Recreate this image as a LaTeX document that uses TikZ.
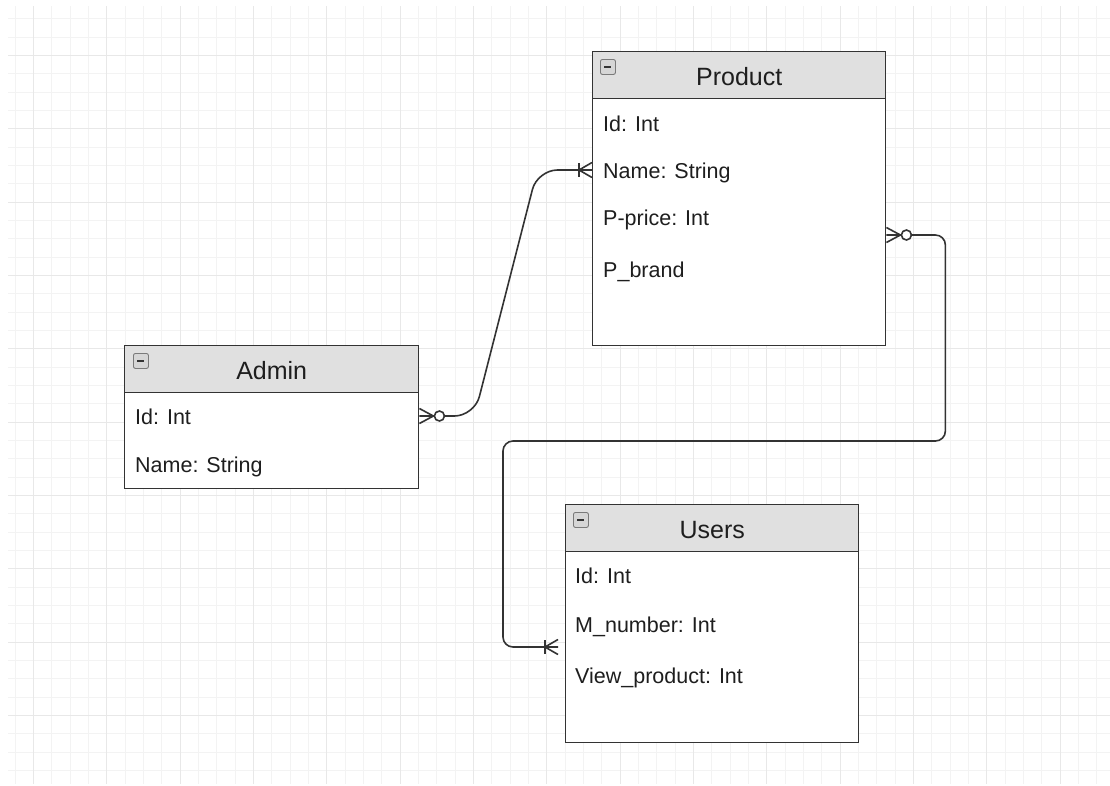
\documentclass[tikz,border=0pt]{standalone}
\usepackage{fontspec}
\setmainfont{Liberation Sans}
\usetikzlibrary{calc}
\definecolor{gridminor}{HTML}{F3F3F3}
\definecolor{gridmajor}{HTML}{E8E8E8}
\definecolor{hdr}{HTML}{E0E0E0}
\definecolor{edgec}{HTML}{333333}
\definecolor{txt}{HTML}{1E1E1E}
\definecolor{iconfill}{HTML}{D6D6D6}
\definecolor{iconedge}{HTML}{7A7A7A}
\tikzset{
  minorline/.style={draw=gridminor, line width=1pt},
  majorline/.style={draw=gridmajor, line width=1.2pt},
  entity/.style={draw=edgec, line width=1.4pt, fill=white, anchor=north west, inner sep=0pt},
  header/.style={draw=edgec, line width=1.4pt, fill=hdr, anchor=north west, minimum height=47pt, inner sep=0pt},
  icon/.style={draw=iconedge, line width=0.9pt, fill=iconfill, rounded corners=2pt, anchor=north west,
    minimum width=15pt, minimum height=15pt, inner sep=0pt,
    path picture={\draw[edgec, line width=1.6pt] ([xshift=4pt]path picture bounding box.west) -- ([xshift=-4pt]path picture bounding box.east);}},
  title/.style={anchor=base, inner sep=0pt, text=txt, font=\fontsize{25}{30}\selectfont},
  field/.style={anchor=base west, inner sep=0pt, text=txt, font=\fontsize{21.5}{26}\selectfont},
  conn/.style={draw=edgec, line width=1.6pt},
  zmany/.pic={\draw[conn] (0,-7.5) -- (14,0) -- (0,7.5); \draw[conn, fill=white] (20,0) circle (5pt);},
  omany/.pic={\draw[conn] (0,-7.5) -- (-13,0) -- (0,7.5); \draw[conn] (-13,-7) -- (-13,7);}
}
\begin{document}
\begin{tikzpicture}[x=1pt,y=-1pt]
\useasboundingbox (0,0) rectangle (1110,785);
\fill[white] (0,0) rectangle (1110,785);
% grid
\begin{scope}
\clip (8,6) rectangle (1110,783);
\foreach \i in {-2,...,60} {\pgfmathsetmacro{\gx}{33+round(18.33333*\i)+0.5}
  \draw[minorline] (\gx,0) -- (\gx,785);}
\foreach \i in {-3,...,42} {\pgfmathsetmacro{\gy}{55+round(18.33333*\i)+0.5}
  \draw[minorline] (0,\gy) -- (1110,\gy);}
\foreach \i in {0,...,15} {\pgfmathsetmacro{\gx}{33+round(73.33333*\i)+0.5}
  \draw[majorline] (\gx,0) -- (\gx,785);}
\foreach \i in {-1,...,10} {\pgfmathsetmacro{\gy}{55+round(73.33333*\i)+0.5}
  \draw[majorline] (0,\gy) -- (1110,\gy);}
\end{scope}

% Product
\node[entity, minimum width=293pt, minimum height=294pt] (product) at (592,51) {};
\node[header, minimum width=293pt] (producth) at (592,51) {};
\node[icon] (producti) at ([xshift=8pt,yshift=-8pt]producth.north west) {};
\node[title] (productt) at ([yshift=14pt]producth.south) {Product};
\node[field] (pid) at ([xshift=11pt,yshift=-80pt]product.north west) {Id: Int};
\node[field] (pname) at ([xshift=11pt,yshift=-127pt]product.north west) {Name: String};
\node[field] (pprice) at ([xshift=11pt,yshift=-174pt]product.north west) {P-price: Int};
\node[field] (pbrand) at ([xshift=11pt,yshift=-226pt]product.north west) {P\_brand};

% Admin
\node[entity, minimum width=294pt, minimum height=143pt] (admin) at (124,345) {};
\node[header, minimum width=294pt] (adminh) at (124,345) {};
\node[icon] (admini) at ([xshift=9pt,yshift=-8pt]adminh.north west) {};
\node[title] (admint) at ([yshift=14pt]adminh.south) {Admin};
\node[field] (aid) at ([xshift=11pt,yshift=-79pt]admin.north west) {Id: Int};
\node[field] (aname) at ([xshift=11pt,yshift=-127pt]admin.north west) {Name: String};

% Users
\node[entity, minimum width=293pt, minimum height=238pt] (users) at (565,504) {};
\node[header, minimum width=293pt] (usersh) at (565,504) {};
\node[icon] (usersi) at ([xshift=8pt,yshift=-8pt]usersh.north west) {};
\node[title] (userst) at ([yshift=14pt]usersh.south) {Users};
\node[field] (uid) at ([xshift=10pt,yshift=-79pt]users.north west) {Id: Int};
\node[field] (unum) at ([xshift=10pt,yshift=-128pt]users.north west) {M\_number: Int};
\node[field] (uview) at ([xshift=10pt,yshift=-179pt]users.north west) {View\_product: Int};

% connectors
\draw[conn, rounded corners=20pt] ([yshift=-71pt]admin.north east) -- ++(55,0) -- ++(63,-246) -- ([yshift=-119pt]product.north west);
\draw[conn, rounded corners=10pt] ([yshift=-184pt]product.north east) -- ++(59,0) |- (503,441) |- ([xshift=-7pt,yshift=-143pt]users.north west);

\pic at ([yshift=-71pt]admin.north east) {zmany};
\pic at ([yshift=-184pt]product.north east) {zmany};
\pic at ([yshift=-119pt]product.north west) {omany};
\pic at ([xshift=-7pt,yshift=-143pt]users.north west) {omany};
\end{tikzpicture}
\end{document}
